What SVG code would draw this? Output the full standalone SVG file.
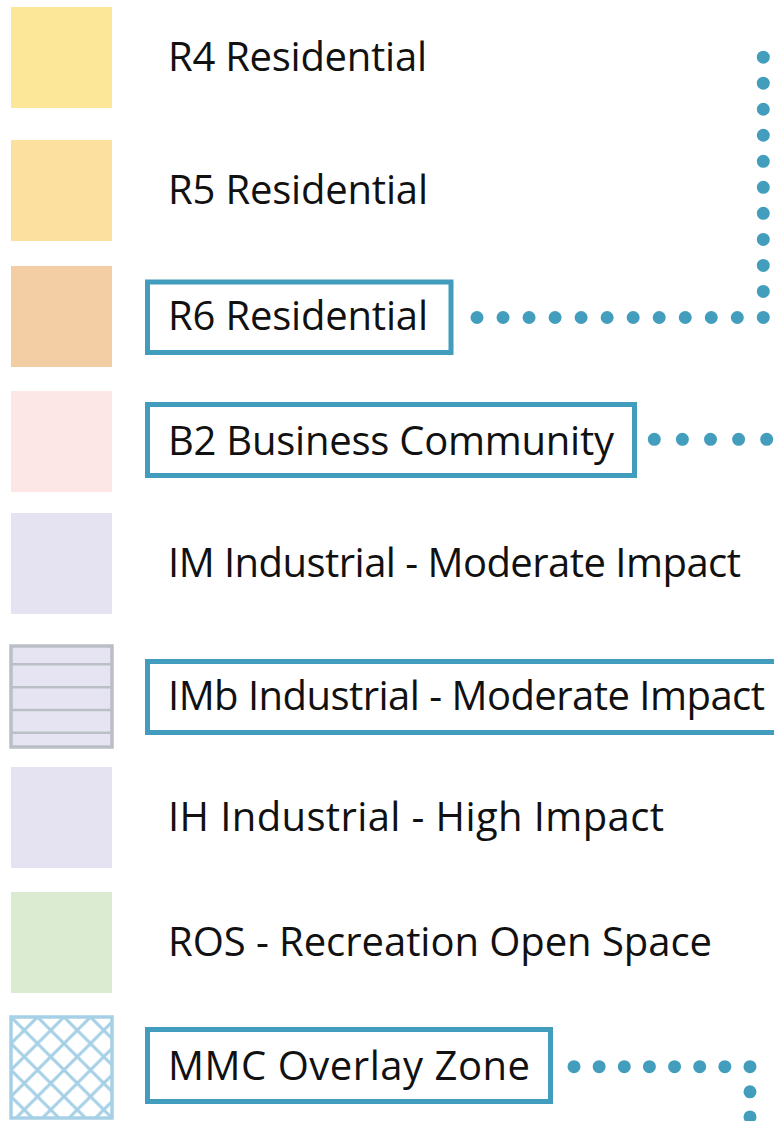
<svg xmlns="http://www.w3.org/2000/svg" width="774" height="1121" viewBox="0 0 774 1121">
  <style>
    .label { font-family: "Open Sans", "Noto Sans", "Liberation Sans", sans-serif; font-size: 40px; fill: #111111; }
    .box { fill: #ffffff; stroke: #429cbd; stroke-width: 5; }
    .dots { fill: none; stroke: #439dbd; stroke-width: 13; stroke-linecap: round; }
  </style>
  <defs>
    <pattern id="hatch" patternUnits="userSpaceOnUse" width="26.5" height="26.5" x="11" y="1017">
      <path d="M0,0 L26.5,26.5 M26.5,0 L0,26.5 M-13.25,13.25 L13.25,-13.25 M13.25,39.75 L39.75,13.25 M-13.25,13.25 L13.25,39.75 M13.25,-13.25 L39.75,13.25" stroke="#a6d0e6" stroke-width="3" fill="none"/>
    </pattern>
  </defs>

  <rect width="774" height="1121" fill="#ffffff"/>

  <!-- connectors -->
  <g id="connectors">
    <path class="dots" d="M477,317.5 H763.3 V54" stroke-dasharray="0 26.03"/>
    <path class="dots" d="M654.3,439.3 H774" stroke-dasharray="0 28.1"/>
    <path class="dots" d="M574,1066.7 H750 V1125" stroke-dasharray="0 25.14"/>
  </g>

  <g id="r4">
    <rect x="11" y="7" width="101" height="101" fill="#fbe797"/>
    <text class="label" x="168" y="71" textLength="259">R4 Residential</text>
  </g>
  <g id="r5">
    <rect x="11" y="140" width="101" height="101" fill="#fce0a0"/>
    <text class="label" x="168" y="204" textLength="260">R5 Residential</text>
  </g>
  <g id="r6">
    <rect x="11" y="266" width="101" height="101" fill="#f3cea4"/>
    <rect class="box" x="147.5" y="282" width="303.5" height="70.5"/>
    <text class="label" x="168" y="330" textLength="260">R6 Residential</text>
  </g>
  <g id="b2">
    <rect x="11" y="391" width="101" height="101" fill="#fce7e6"/>
    <rect class="box" x="147.5" y="404.5" width="487" height="71"/>
    <text class="label" x="168" y="455" textLength="446">B2 Business Community</text>
  </g>
  <g id="im">
    <rect x="11" y="513" width="101" height="101" fill="#e5e3f1"/>
    <text class="label" x="168" y="577" textLength="573">IM Industrial - Moderate Impact</text>
  </g>
  <g id="imb">
    <rect x="11" y="646" width="101" height="101" fill="#e6e4f2" stroke="#b9bfc5" stroke-width="3.5"/>
    <path d="M11,664.3 H112 M11,687.3 H112 M11,710 H112 M11,732.7 H112" stroke="#b9bfc5" stroke-width="2.5"/>
    <rect class="box" x="147.5" y="661.5" width="640" height="71"/>
    <text class="label" x="168" y="710" textLength="597">IMb Industrial - Moderate Impact</text>
  </g>
  <g id="ih">
    <rect x="11" y="767" width="101" height="101" fill="#e5e3f1"/>
    <text class="label" x="168" y="831" textLength="496">IH Industrial - High Impact</text>
  </g>
  <g id="ros">
    <rect x="11" y="892" width="101" height="101" fill="#daebd1"/>
    <text class="label" x="168" y="956" textLength="544">ROS - Recreation Open Space</text>
  </g>
  <g id="mmc">
    <rect x="11" y="1017" width="101" height="101" fill="url(#hatch)" stroke="#a6d0e6" stroke-width="3.5"/>
    <rect class="box" x="147.5" y="1029.5" width="403" height="72"/>
    <text class="label" x="168" y="1080" textLength="362">MMC Overlay Zone</text>
  </g>
</svg>
